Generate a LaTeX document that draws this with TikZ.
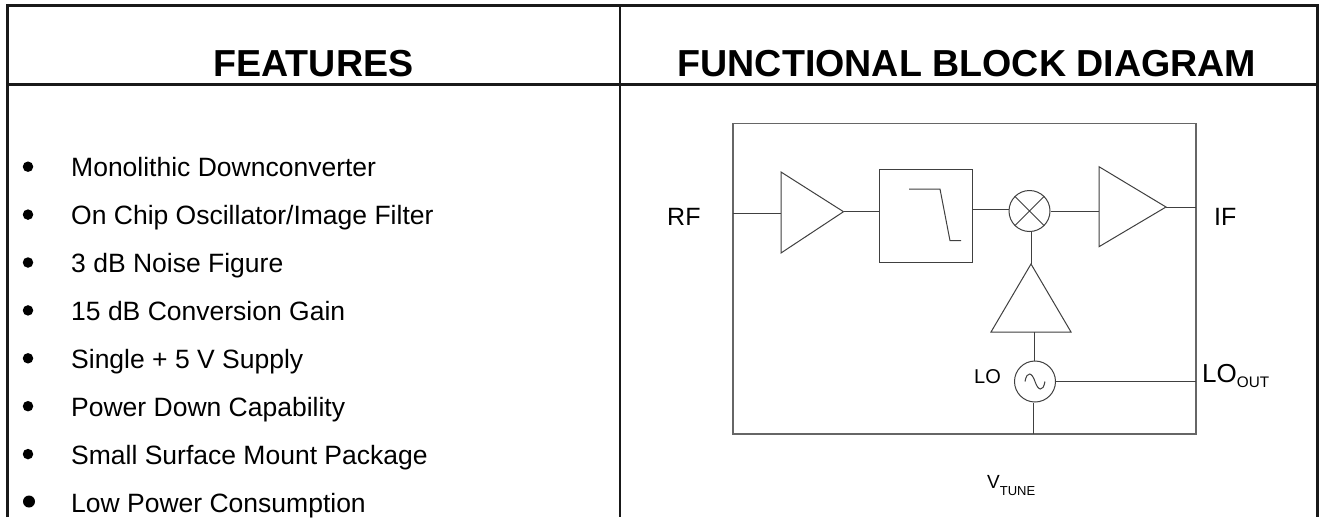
\documentclass[tikz,border=0pt]{standalone}
\usepackage{fontspec}
\setmainfont{Liberation Sans}
\newcommand{\fs}[1]{\fontsize{#1}{#1}\selectfont}
\tikzset{
  x=1pt,y=-1pt,
  frame/.style={line width=2.9pt,color=black!90},
  thin box/.style={draw=black!60,line width=1.1pt},
  wire/.style={draw=black!75,line width=1pt},
  head/.style={font=\fs{37.6}\bfseries,inner sep=0pt,anchor=base},
  item/.style={font=\fs{26.5},inner sep=0pt,anchor=base west},
  dot/.style={circle,fill=black,inner sep=0pt,minimum size=10.5pt},
  lab/.style={font=\fs{25},inner sep=0pt,anchor=base west},
  blk/.style={circle,draw=black!75,line width=1pt,minimum size=41pt,inner sep=0pt},
}
\begin{document}
\begin{tikzpicture}
\useasboundingbox (0,0) rectangle (1320,517);
\fill[white] (0,0) rectangle (1320,517);
% table frame
\draw[frame] (7.5,517) -- (7.5,5.7) -- (1317.2,5.7) -- (1317.2,517);
\draw[frame] (7.5,84.7) -- (1317.2,84.7);
\draw[frame] (620,5.7) -- (620,517);
\node[head] (hf) at (313.5,76) {FEATURES};
\node[head] (hb) at (967,76) {FUNCTIONAL BLOCK DIAGRAM};
% features
\foreach \n/\yy/\t in {a/176.7/{Monolithic Downconverter},b/224.6/{On Chip Oscillator/Image Filter},c/272.5/{3 dB Noise Figure},d/320.4/{15 dB Conversion Gain},e/368.3/{Single + 5 V Supply},f/416.2/{Power Down Capability},g/464.1/{Small Surface Mount Package}}{
  \node[dot] (d\n) at (28,\yy-10) {};
  \node[item] (t\n) at (71,\yy) {\t};
}
\node[dot,minimum size=12pt] (dh) at (29,501.5) {};
\node[item] (th) at (71,512) {Low Power Consumption};
% block diagram
\draw[thin box] (733,123.5) rectangle (1196,434);
\coordinate (rfpin) at (733,213.7);
\coordinate (ifpin) at (1196,207);
\coordinate (lopin) at (1196,381.5);
\coordinate (vpin) at (1033,434);
\coordinate (a1in) at (781,213.7);
\coordinate (a1out) at (843.5,211.7);
\coordinate (mf) at (0,209);
\draw[wire] (781,172) -- (843.5,211.7) -- (781,253) -- cycle;
\node[draw=black!75,line width=1pt,minimum width=93pt,minimum height=93pt,inner sep=0pt] (filt) at (925.5,215.5) {};
\draw[wire] (909,189) -- (940,189) -- (950,240.7) -- (961,240.7);
\node[blk] (mix) at (1029.5,211) {};
\draw[wire] (mix.north east) -- (mix.south west) (mix.north west) -- (mix.south east);
\coordinate (a3in) at (1099,211);
\coordinate (a3out) at (1166,207);
\draw[wire] (1099,166.7) -- (1166,207) -- (1099,246.7) -- cycle;
\coordinate (a2top) at (1031,264);
\coordinate (a2bot) at (1034,332);
\draw[wire] (1031,264) -- (1071,332) -- (991,332) -- cycle;
\node[blk] (osc) at (1035,381.5) {};
\draw[wire] (1025,381.5) .. controls (1027,370.5) and (1032,372.5) .. (1035,381.5) .. controls (1038,390.5) and (1043,392.5) .. (1045,381.5);
\draw[wire] (rfpin) -- (a1in);
\draw[wire] (a1out) -- (filt.west |- a1out);
\draw[wire] (filt.east |- mf) -- (mix.west |- mf);
\draw[wire] (mix.east) -- (a3in);
\draw[wire] (a3out) -- (ifpin);
\draw[wire] (mix.south -| a2top) -- (a2top);
\draw[wire] (a2bot) -- (osc.north -| a2bot);
\draw[wire] (osc.east) -- (lopin);
\draw[wire] (osc.south -| vpin) -- (vpin);
\node[lab] (rf) at (667,225) {RF};
\node[lab] (if) at (1214,225) {IF};
\node[font=\fs{20},inner sep=0pt,anchor=base west] (lo) at (974,383) {LO};
\node[font=\fs{26},inner sep=0pt,anchor=base west] (loout) at (1202,382.5) {LO\fs{15.3}\raisebox{-4.5pt}{OUT}};
\node[font=\fs{19},inner sep=0pt,anchor=base west] (vt) at (987,488) {V\fs{13}\raisebox{-7pt}{TUNE}};
\end{tikzpicture}
\end{document}
